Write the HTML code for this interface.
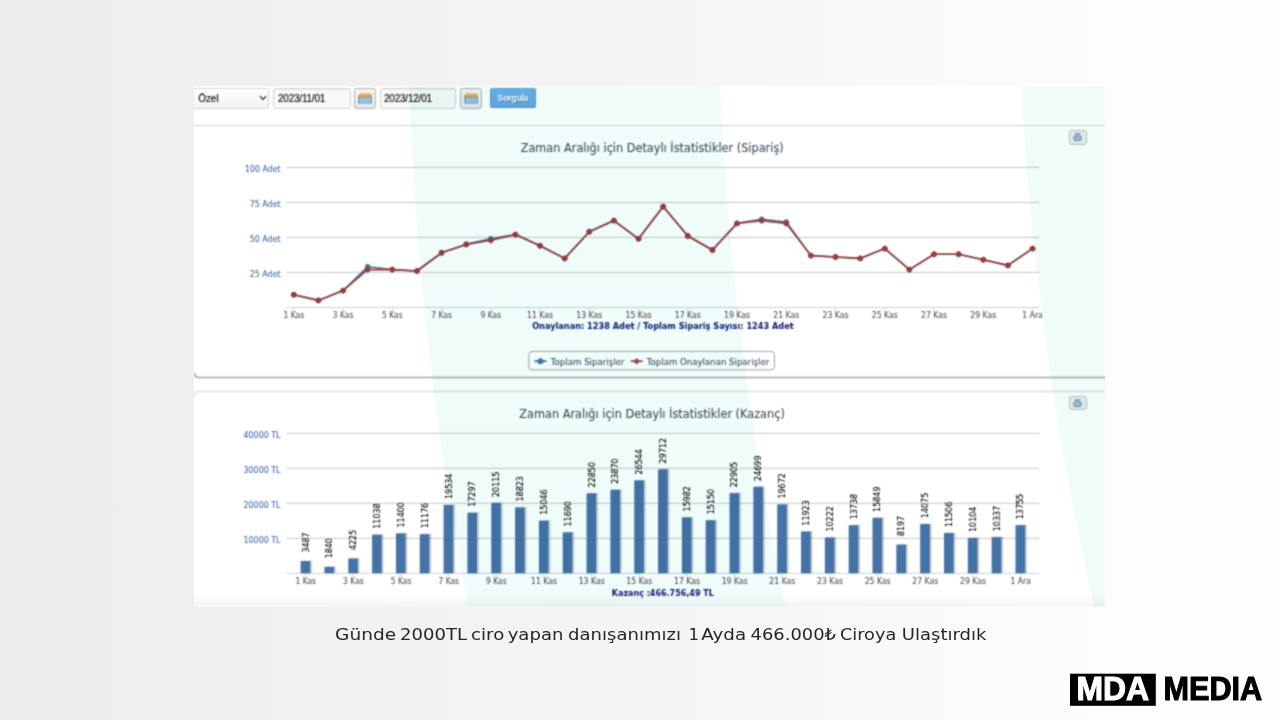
<!DOCTYPE html>
<html lang="tr">
<head>
<meta charset="utf-8">
<title>MDA Media - Detaylı İstatistikler</title>
<style>
html, body { margin: 0; padding: 0; }
body { width: 1280px; height: 720px; overflow: hidden; position: relative;
  background: linear-gradient(90deg, #eeeeee 0%, #f0f0f0 22%, #f5f5f5 52%, #fcfcfc 82%, #fefefe 100%);
  font-family: "Liberation Sans", "DejaVu Sans", sans-serif; }
.shot { position: absolute; left: 194.3px; top: 86px; width: 910.5px; height: 520.7px; overflow: hidden; background: #ffffff; }
.inner { position: absolute; left: -194.3px; top: -86px; width: 1280px; height: 720px; background: #ffffff; filter: url(#soft); }
.charts { position: absolute; left: 0; top: 0; }
.fade { position: absolute; left: 0; top: 594px; width: 1280px; height: 13px; background: linear-gradient(180deg, rgba(0,0,0,0) 0%, rgba(0,0,0,0.045) 100%); }
.teal { position: absolute; left: 0; top: 0; mix-blend-mode: multiply; }
.ctl { position: absolute; box-sizing: border-box; top: 88.4px; height: 20.2px; border-radius: 3px; }
.sel { left: 185px; width: 84px; border: 1px solid #d4d4d4; background: linear-gradient(180deg, #ffffff, #f2f2f2); }
.inp { border: 1px solid #d2d2d2; background: #f8f8f8; box-shadow: inset 0 1px 1px rgba(0,0,0,0.05); }
.txt { position: absolute; top: 3.7px; font-size: 10px; line-height: 11px; letter-spacing: -0.22px; color: #000000; -webkit-text-stroke: 0.1px #000000; white-space: nowrap; }
.cal { border: 1px solid #b3b3b3; background: linear-gradient(180deg, #f2f2f2, #e6e6e6); height: 20.6px; border-radius: 2.5px; }
.cal svg { position: absolute; left: 3px; top: 3px; }
.btn { left: 489.8px; top: 88.3px; width: 46.2px; height: 20.2px; border-radius: 2.5px; border: 1px solid #5a93c8; border-top-color: #6a9fce; background: linear-gradient(180deg, #6db0e8, #62a7e2); color: #ffffff; font-weight: bold; font-size: 8.7px; letter-spacing: -0.25px; line-height: 18.6px; text-align: center; text-shadow: 0.6px 0.9px 0 rgba(50,85,130,0.65); }
.prn { position: absolute; box-sizing: border-box; left: 1069.1px; width: 17.8px; height: 14.6px; border: 1px solid #c2c2c2; border-radius: 3px; background: #eeeeee; }
.prn svg { position: absolute; left: 2.4px; top: 1.3px; }
.caption { position: absolute; left: 0; top: 0; }
.logo { position: absolute; left: 0; top: 0; }
</style>
</head>
<body>
<svg width="0" height="0" style="position:absolute"><filter id="soft" x="0" y="0" width="100%" height="100%" color-interpolation-filters="sRGB"><feConvolveMatrix order="3" kernelMatrix="1 2 1 2 6 2 1 2 1" divisor="18" edgeMode="duplicate" preserveAlpha="true"/></filter></svg>
<div class="shot">
<div class="inner">
<div class="ctl sel"><span class="txt" style="left:12.2px;top:3.8px;letter-spacing:-0.05px">Özel</span>
<svg style="position:absolute;left:73.3px;top:5.6px" width="8" height="6" viewBox="0 0 8 6"><path d="M1 1.2L4 4.4L7 1.2" fill="none" stroke="#1a1a1a" stroke-width="1.05"/></svg></div>
<div class="ctl inp" style="left:273.2px;width:77.4px"><span class="txt" style="left:3.8px">2023/11/01</span></div>
<div class="ctl cal" style="left:353.6px;width:22.6px"><svg width="15" height="13" viewBox="0 0 15 13"><rect x="0.4" y="3.2" width="13.6" height="8.4" rx="0.9" fill="#5590c8"/><path d="M0.4 5V3L2.2 1.6L3.4 2.8L4.4 0.6L5.8 2.6L7.2 1.2L8.4 2.8L9.8 0.6L11 2.6L12.4 1.6L14 3V5Z" fill="#eba23e"/><path d="M0.9 7.2h12.6M0.9 9.4h12.6M3.6 5v6.4M6.2 5v6.4M8.8 5v6.4M11.4 5v6.4" stroke="#cfe3f6" stroke-width="0.8" fill="none"/></svg></div>
<div class="ctl inp" style="left:379.9px;width:76.4px"><span class="txt" style="left:3.1px">2023/12/01</span></div>
<div class="ctl cal" style="left:460px;width:22.4px"><svg width="15" height="13" viewBox="0 0 15 13"><rect x="0.4" y="3.2" width="13.6" height="8.4" rx="0.9" fill="#5590c8"/><path d="M0.4 5V3L2.2 1.6L3.4 2.8L4.4 0.6L5.8 2.6L7.2 1.2L8.4 2.8L9.8 0.6L11 2.6L12.4 1.6L14 3V5Z" fill="#eba23e"/><path d="M0.9 7.2h12.6M0.9 9.4h12.6M3.6 5v6.4M6.2 5v6.4M8.8 5v6.4M11.4 5v6.4" stroke="#cfe3f6" stroke-width="0.8" fill="none"/></svg></div>
<div class="ctl btn">Sorgula</div>
<svg class="charts" width="1280" height="720" viewBox="0 0 1280 720">
<g fill="none">
<path d="M190 125.7H1110" stroke="#d9d9d9" stroke-width="1.2"/>
<path d="M194.3 372.5q0 5 5 5H1110" stroke="#a6a6a6" stroke-width="1.6"/>
<path d="M194.3 396.5q0 -5 5 -5H1110" stroke="#dedede" stroke-width="1.3"/>
</g>
<g stroke="#c9c9c9" stroke-width="1">
<path d="M286.4 272.4H1039.4"/>
<path d="M286.4 237.4H1039.4"/>
<path d="M286.4 202.4H1039.4"/>
<path d="M286.4 167.4H1039.4"/>
</g>
<path d="M286.4 307.4H1039.4" stroke="#c6d2de" stroke-width="1"/>
<g stroke="#d0dae4" stroke-width="1">
<path d="M293.8 307.4v3.5"/>
<path d="M343.05 307.4v3.5"/>
<path d="M392.3 307.4v3.5"/>
<path d="M441.55 307.4v3.5"/>
<path d="M490.8 307.4v3.5"/>
<path d="M540.05 307.4v3.5"/>
<path d="M589.3 307.4v3.5"/>
<path d="M638.55 307.4v3.5"/>
<path d="M687.8 307.4v3.5"/>
<path d="M737.05 307.4v3.5"/>
<path d="M786.3 307.4v3.5"/>
<path d="M835.55 307.4v3.5"/>
<path d="M884.8 307.4v3.5"/>
<path d="M934.05 307.4v3.5"/>
<path d="M983.3 307.4v3.5"/>
<path d="M1032.55 307.4v3.5"/>
</g>
<g font-family='"DejaVu Sans", "Liberation Sans", sans-serif' font-size="8.2" fill="#3f6ea3" stroke="#3f6ea3" stroke-width="0.1" text-anchor="end">
<text x="280.6" y="276.5" textLength="30.8" lengthAdjust="spacingAndGlyphs">25 Adet</text>
<text x="280.6" y="241.5" textLength="30.8" lengthAdjust="spacingAndGlyphs">50 Adet</text>
<text x="280.6" y="206.5" textLength="30.8" lengthAdjust="spacingAndGlyphs">75 Adet</text>
<text x="280.6" y="171.5" textLength="35.6" lengthAdjust="spacingAndGlyphs">100 Adet</text>
</g>
<g font-family='"DejaVu Sans", "Liberation Sans", sans-serif' font-size="8" fill="#555555" stroke="#555555" stroke-width="0.1" text-anchor="middle">
<text x="293.8" y="318.1" textLength="20.6" lengthAdjust="spacingAndGlyphs">1 Kas</text>
<text x="343.05" y="318.1" textLength="20.6" lengthAdjust="spacingAndGlyphs">3 Kas</text>
<text x="392.3" y="318.1" textLength="20.6" lengthAdjust="spacingAndGlyphs">5 Kas</text>
<text x="441.55" y="318.1" textLength="20.6" lengthAdjust="spacingAndGlyphs">7 Kas</text>
<text x="490.8" y="318.1" textLength="20.6" lengthAdjust="spacingAndGlyphs">9 Kas</text>
<text x="540.05" y="318.1" textLength="26" lengthAdjust="spacingAndGlyphs">11 Kas</text>
<text x="589.3" y="318.1" textLength="26" lengthAdjust="spacingAndGlyphs">13 Kas</text>
<text x="638.55" y="318.1" textLength="26" lengthAdjust="spacingAndGlyphs">15 Kas</text>
<text x="687.8" y="318.1" textLength="26" lengthAdjust="spacingAndGlyphs">17 Kas</text>
<text x="737.05" y="318.1" textLength="26" lengthAdjust="spacingAndGlyphs">19 Kas</text>
<text x="786.3" y="318.1" textLength="26" lengthAdjust="spacingAndGlyphs">21 Kas</text>
<text x="835.55" y="318.1" textLength="26" lengthAdjust="spacingAndGlyphs">23 Kas</text>
<text x="884.8" y="318.1" textLength="26" lengthAdjust="spacingAndGlyphs">25 Kas</text>
<text x="934.05" y="318.1" textLength="26" lengthAdjust="spacingAndGlyphs">27 Kas</text>
<text x="983.3" y="318.1" textLength="26" lengthAdjust="spacingAndGlyphs">29 Kas</text>
<text x="1032.55" y="318.1" textLength="20.4" lengthAdjust="spacingAndGlyphs">1 Ara</text>
</g>
<text x="652.2" y="152.1" font-family='"DejaVu Sans", "Liberation Sans", sans-serif' font-size="12" fill="#404e5e" stroke="#404e5e" stroke-width="0.1" text-anchor="middle" textLength="263" lengthAdjust="spacingAndGlyphs">Zaman Aralığı için Detaylı İstatistikler (Sipariş)</text>
<text x="662.9" y="329.3" font-family='"DejaVu Sans", "Liberation Sans", sans-serif' font-size="8.3" font-weight="bold" fill="#131f78" stroke="#131f78" stroke-width="0.05" text-anchor="middle" textLength="261.5" lengthAdjust="spacingAndGlyphs">Onaylanan: 1238 Adet / Toplam Sipariş Sayısı: 1243 Adet</text>
<path d="M293.8 294.8 L318.43 300.4 L343.05 290.6 L367.68 266.8 L392.3 269.6 L416.93 271 L441.55 252.8 L466.18 244.4 L490.8 238.8 L515.42 234.6 L540.05 245.8 L564.67 258.4 L589.3 231.8 L613.92 220.6 L638.55 238.8 L663.17 206.6 L687.8 236 L712.42 250 L737.05 223.4 L761.67 219.2 L786.3 222 L810.92 255.6 L835.55 257 L860.17 258.4 L884.8 248.6 L909.42 269.6 L934.05 254.2 L958.67 254.2 L983.3 259.8 L1007.92 265.4 L1032.55 248.6" fill="none" stroke="#3f6ca3" stroke-width="1.6" stroke-linejoin="round" stroke-linecap="round"/>
<g fill="#4572a7">
<circle cx="293.8" cy="294.8" r="2.7"/>
<circle cx="318.43" cy="300.4" r="2.7"/>
<circle cx="343.05" cy="290.6" r="2.7"/>
<circle cx="367.68" cy="266.8" r="2.7"/>
<circle cx="392.3" cy="269.6" r="2.7"/>
<circle cx="416.93" cy="271" r="2.7"/>
<circle cx="441.55" cy="252.8" r="2.7"/>
<circle cx="466.18" cy="244.4" r="2.7"/>
<circle cx="490.8" cy="238.8" r="2.7"/>
<circle cx="515.42" cy="234.6" r="2.7"/>
<circle cx="540.05" cy="245.8" r="2.7"/>
<circle cx="564.67" cy="258.4" r="2.7"/>
<circle cx="589.3" cy="231.8" r="2.7"/>
<circle cx="613.92" cy="220.6" r="2.7"/>
<circle cx="638.55" cy="238.8" r="2.7"/>
<circle cx="663.17" cy="206.6" r="2.7"/>
<circle cx="687.8" cy="236" r="2.7"/>
<circle cx="712.42" cy="250" r="2.7"/>
<circle cx="737.05" cy="223.4" r="2.7"/>
<circle cx="761.67" cy="219.2" r="2.7"/>
<circle cx="786.3" cy="222" r="2.7"/>
<circle cx="810.92" cy="255.6" r="2.7"/>
<circle cx="835.55" cy="257" r="2.7"/>
<circle cx="860.17" cy="258.4" r="2.7"/>
<circle cx="884.8" cy="248.6" r="2.7"/>
<circle cx="909.42" cy="269.6" r="2.7"/>
<circle cx="934.05" cy="254.2" r="2.7"/>
<circle cx="958.67" cy="254.2" r="2.7"/>
<circle cx="983.3" cy="259.8" r="2.7"/>
<circle cx="1007.92" cy="265.4" r="2.7"/>
<circle cx="1032.55" cy="248.6" r="2.7"/>
</g>
<path d="M293.8 294.8 L318.43 300.4 L343.05 290.6 L367.68 269.6 L392.3 269.6 L416.93 271 L441.55 252.8 L466.18 244.4 L490.8 240.2 L515.42 234.6 L540.05 245.8 L564.67 258.4 L589.3 231.8 L613.92 220.6 L638.55 238.8 L663.17 206.6 L687.8 236 L712.42 250 L737.05 223.4 L761.67 220.6 L786.3 223.4 L810.92 255.6 L835.55 257 L860.17 258.4 L884.8 248.6 L909.42 269.6 L934.05 254.2 L958.67 254.2 L983.3 259.8 L1007.92 265.4 L1032.55 248.6" fill="none" stroke="#9b3c3a" stroke-width="1.6" stroke-linejoin="round" stroke-linecap="round"/>
<g fill="#9b3c3a">
<circle cx="293.8" cy="294.8" r="2.7"/><path d="M293.8 291.5l3.3 3.3l-3.3 3.3l-3.3 -3.3z"/>
<circle cx="318.43" cy="300.4" r="2.7"/><path d="M318.43 297.1l3.3 3.3l-3.3 3.3l-3.3 -3.3z"/>
<circle cx="343.05" cy="290.6" r="2.7"/><path d="M343.05 287.3l3.3 3.3l-3.3 3.3l-3.3 -3.3z"/>
<circle cx="367.68" cy="269.6" r="2.7"/><path d="M367.68 266.3l3.3 3.3l-3.3 3.3l-3.3 -3.3z"/>
<circle cx="392.3" cy="269.6" r="2.7"/><path d="M392.3 266.3l3.3 3.3l-3.3 3.3l-3.3 -3.3z"/>
<circle cx="416.93" cy="271" r="2.7"/><path d="M416.93 267.7l3.3 3.3l-3.3 3.3l-3.3 -3.3z"/>
<circle cx="441.55" cy="252.8" r="2.7"/><path d="M441.55 249.5l3.3 3.3l-3.3 3.3l-3.3 -3.3z"/>
<circle cx="466.18" cy="244.4" r="2.7"/><path d="M466.18 241.1l3.3 3.3l-3.3 3.3l-3.3 -3.3z"/>
<circle cx="490.8" cy="240.2" r="2.7"/><path d="M490.8 236.9l3.3 3.3l-3.3 3.3l-3.3 -3.3z"/>
<circle cx="515.42" cy="234.6" r="2.7"/><path d="M515.42 231.3l3.3 3.3l-3.3 3.3l-3.3 -3.3z"/>
<circle cx="540.05" cy="245.8" r="2.7"/><path d="M540.05 242.5l3.3 3.3l-3.3 3.3l-3.3 -3.3z"/>
<circle cx="564.67" cy="258.4" r="2.7"/><path d="M564.67 255.1l3.3 3.3l-3.3 3.3l-3.3 -3.3z"/>
<circle cx="589.3" cy="231.8" r="2.7"/><path d="M589.3 228.5l3.3 3.3l-3.3 3.3l-3.3 -3.3z"/>
<circle cx="613.92" cy="220.6" r="2.7"/><path d="M613.92 217.3l3.3 3.3l-3.3 3.3l-3.3 -3.3z"/>
<circle cx="638.55" cy="238.8" r="2.7"/><path d="M638.55 235.5l3.3 3.3l-3.3 3.3l-3.3 -3.3z"/>
<circle cx="663.17" cy="206.6" r="2.7"/><path d="M663.17 203.3l3.3 3.3l-3.3 3.3l-3.3 -3.3z"/>
<circle cx="687.8" cy="236" r="2.7"/><path d="M687.8 232.7l3.3 3.3l-3.3 3.3l-3.3 -3.3z"/>
<circle cx="712.42" cy="250" r="2.7"/><path d="M712.42 246.7l3.3 3.3l-3.3 3.3l-3.3 -3.3z"/>
<circle cx="737.05" cy="223.4" r="2.7"/><path d="M737.05 220.1l3.3 3.3l-3.3 3.3l-3.3 -3.3z"/>
<circle cx="761.67" cy="220.6" r="2.7"/><path d="M761.67 217.3l3.3 3.3l-3.3 3.3l-3.3 -3.3z"/>
<circle cx="786.3" cy="223.4" r="2.7"/><path d="M786.3 220.1l3.3 3.3l-3.3 3.3l-3.3 -3.3z"/>
<circle cx="810.92" cy="255.6" r="2.7"/><path d="M810.92 252.3l3.3 3.3l-3.3 3.3l-3.3 -3.3z"/>
<circle cx="835.55" cy="257" r="2.7"/><path d="M835.55 253.7l3.3 3.3l-3.3 3.3l-3.3 -3.3z"/>
<circle cx="860.17" cy="258.4" r="2.7"/><path d="M860.17 255.1l3.3 3.3l-3.3 3.3l-3.3 -3.3z"/>
<circle cx="884.8" cy="248.6" r="2.7"/><path d="M884.8 245.3l3.3 3.3l-3.3 3.3l-3.3 -3.3z"/>
<circle cx="909.42" cy="269.6" r="2.7"/><path d="M909.42 266.3l3.3 3.3l-3.3 3.3l-3.3 -3.3z"/>
<circle cx="934.05" cy="254.2" r="2.7"/><path d="M934.05 250.9l3.3 3.3l-3.3 3.3l-3.3 -3.3z"/>
<circle cx="958.67" cy="254.2" r="2.7"/><path d="M958.67 250.9l3.3 3.3l-3.3 3.3l-3.3 -3.3z"/>
<circle cx="983.3" cy="259.8" r="2.7"/><path d="M983.3 256.5l3.3 3.3l-3.3 3.3l-3.3 -3.3z"/>
<circle cx="1007.92" cy="265.4" r="2.7"/><path d="M1007.92 262.1l3.3 3.3l-3.3 3.3l-3.3 -3.3z"/>
<circle cx="1032.55" cy="248.6" r="2.7"/><path d="M1032.55 245.3l3.3 3.3l-3.3 3.3l-3.3 -3.3z"/>
</g>
<rect x="528.8" y="351.4" width="245.7" height="18.5" rx="3.5" fill="#ffffff" stroke="#8c8c8c" stroke-width="0.8"/>
<path d="M534.5 361.2h12" stroke="#4572a7" stroke-width="1.8"/><circle cx="540.5" cy="361.2" r="2.9" fill="#4572a7"/>
<path d="M630.7 361.2h12" stroke="#aa4643" stroke-width="1.8"/><path d="M636.7 357.9l3.3 3.3l-3.3 3.3l-3.3 -3.3z" fill="#aa4643"/>
<g font-family='"DejaVu Sans", "Liberation Sans", sans-serif' font-size="8.9" fill="#3f4f60" stroke="#3f4f60" stroke-width="0.1">
<text x="550.8" y="364.6" textLength="73.6" lengthAdjust="spacingAndGlyphs">Toplam Siparişler</text>
<text x="646.8" y="364.6" textLength="122.4" lengthAdjust="spacingAndGlyphs">Toplam Onaylanan Siparişler</text>
</g>
<g stroke="#c9c9c9" stroke-width="1">
<path d="M286.4 538.3H1039.4"/>
<path d="M286.4 503.3H1039.4"/>
<path d="M286.4 468.3H1039.4"/>
<path d="M286.4 433.3H1039.4"/>
</g>
<path d="M286.4 573.3H1039.4" stroke="#c6d2de" stroke-width="1"/>
<g stroke="#d0dae4" stroke-width="1">
<path d="M305.45 573.3v3.5"/>
<path d="M353.11 573.3v3.5"/>
<path d="M400.77 573.3v3.5"/>
<path d="M448.43 573.3v3.5"/>
<path d="M496.09 573.3v3.5"/>
<path d="M543.75 573.3v3.5"/>
<path d="M591.41 573.3v3.5"/>
<path d="M639.07 573.3v3.5"/>
<path d="M686.73 573.3v3.5"/>
<path d="M734.39 573.3v3.5"/>
<path d="M782.05 573.3v3.5"/>
<path d="M829.71 573.3v3.5"/>
<path d="M877.37 573.3v3.5"/>
<path d="M925.03 573.3v3.5"/>
<path d="M972.69 573.3v3.5"/>
<path d="M1020.35 573.3v3.5"/>
</g>
<g font-family='"DejaVu Sans", "Liberation Sans", sans-serif' font-size="8.2" fill="#3f6ea3" stroke="#3f6ea3" stroke-width="0.1" text-anchor="end">
<text x="280.5" y="542.5" textLength="37" lengthAdjust="spacingAndGlyphs">10000 TL</text>
<text x="280.5" y="507.5" textLength="37" lengthAdjust="spacingAndGlyphs">20000 TL</text>
<text x="280.5" y="472.5" textLength="37" lengthAdjust="spacingAndGlyphs">30000 TL</text>
<text x="280.5" y="437.5" textLength="37" lengthAdjust="spacingAndGlyphs">40000 TL</text>
</g>
<g font-family='"DejaVu Sans", "Liberation Sans", sans-serif' font-size="8" fill="#555555" stroke="#555555" stroke-width="0.1" text-anchor="middle">
<text x="305.75" y="584.1" textLength="20.6" lengthAdjust="spacingAndGlyphs">1 Kas</text>
<text x="353.41" y="584.1" textLength="20.6" lengthAdjust="spacingAndGlyphs">3 Kas</text>
<text x="401.07" y="584.1" textLength="20.6" lengthAdjust="spacingAndGlyphs">5 Kas</text>
<text x="448.73" y="584.1" textLength="20.6" lengthAdjust="spacingAndGlyphs">7 Kas</text>
<text x="496.39" y="584.1" textLength="20.6" lengthAdjust="spacingAndGlyphs">9 Kas</text>
<text x="544.05" y="584.1" textLength="26" lengthAdjust="spacingAndGlyphs">11 Kas</text>
<text x="591.71" y="584.1" textLength="26" lengthAdjust="spacingAndGlyphs">13 Kas</text>
<text x="639.37" y="584.1" textLength="26" lengthAdjust="spacingAndGlyphs">15 Kas</text>
<text x="687.03" y="584.1" textLength="26" lengthAdjust="spacingAndGlyphs">17 Kas</text>
<text x="734.69" y="584.1" textLength="26" lengthAdjust="spacingAndGlyphs">19 Kas</text>
<text x="782.35" y="584.1" textLength="26" lengthAdjust="spacingAndGlyphs">21 Kas</text>
<text x="830.01" y="584.1" textLength="26" lengthAdjust="spacingAndGlyphs">23 Kas</text>
<text x="877.67" y="584.1" textLength="26" lengthAdjust="spacingAndGlyphs">25 Kas</text>
<text x="925.33" y="584.1" textLength="26" lengthAdjust="spacingAndGlyphs">27 Kas</text>
<text x="972.99" y="584.1" textLength="26" lengthAdjust="spacingAndGlyphs">29 Kas</text>
<text x="1020.65" y="584.1" textLength="20.4" lengthAdjust="spacingAndGlyphs">1 Ara</text>
</g>
<text x="652.1" y="418" font-family='"DejaVu Sans", "Liberation Sans", sans-serif' font-size="12" fill="#404e5e" stroke="#404e5e" stroke-width="0.1" text-anchor="middle" textLength="265.5" lengthAdjust="spacingAndGlyphs">Zaman Aralığı için Detaylı İstatistikler (Kazanç)</text>
<text x="662.8" y="595.5" font-family='"DejaVu Sans", "Liberation Sans", sans-serif' font-size="8.3" font-weight="bold" fill="#131f78" stroke="#131f78" stroke-width="0.05" text-anchor="middle" textLength="102" lengthAdjust="spacingAndGlyphs">Kazanç :466.756,49 TL</text>
<g fill="#000000" fill-opacity="0.17">
<rect x="302.5" y="560.6" width="9.7" height="12.2"/>
<rect x="326.33" y="566.36" width="9.7" height="6.44"/>
<rect x="350.16" y="558.01" width="9.7" height="14.79"/>
<rect x="373.99" y="534.17" width="9.7" height="38.63"/>
<rect x="397.82" y="532.9" width="9.7" height="39.9"/>
<rect x="421.65" y="533.68" width="9.7" height="39.12"/>
<rect x="445.48" y="504.43" width="9.7" height="68.37"/>
<rect x="469.31" y="512.26" width="9.7" height="60.54"/>
<rect x="493.14" y="502.4" width="9.7" height="70.4"/>
<rect x="516.97" y="506.92" width="9.7" height="65.88"/>
<rect x="540.8" y="520.14" width="9.7" height="52.66"/>
<rect x="564.63" y="531.88" width="9.7" height="40.91"/>
<rect x="588.46" y="492.82" width="9.7" height="79.98"/>
<rect x="612.29" y="489.25" width="9.7" height="83.55"/>
<rect x="636.12" y="479.9" width="9.7" height="92.9"/>
<rect x="659.95" y="468.81" width="9.7" height="103.99"/>
<rect x="683.78" y="516.86" width="9.7" height="55.94"/>
<rect x="707.61" y="519.77" width="9.7" height="53.02"/>
<rect x="731.44" y="492.63" width="9.7" height="80.17"/>
<rect x="755.27" y="486.35" width="9.7" height="86.45"/>
<rect x="779.1" y="503.95" width="9.7" height="68.85"/>
<rect x="802.93" y="531.07" width="9.7" height="41.73"/>
<rect x="826.76" y="537.02" width="9.7" height="35.78"/>
<rect x="850.59" y="524.72" width="9.7" height="48.08"/>
<rect x="874.42" y="517.33" width="9.7" height="55.47"/>
<rect x="898.25" y="544.11" width="9.7" height="28.69"/>
<rect x="922.08" y="523.54" width="9.7" height="49.26"/>
<rect x="945.91" y="532.53" width="9.7" height="40.27"/>
<rect x="969.74" y="537.44" width="9.7" height="35.36"/>
<rect x="993.57" y="536.62" width="9.7" height="36.18"/>
<rect x="1017.4" y="524.66" width="9.7" height="48.14"/>
</g>
<g fill="#4572a7">
<rect x="300.6" y="561.1" width="9.7" height="12.2"/>
<rect x="324.43" y="566.86" width="9.7" height="6.44"/>
<rect x="348.26" y="558.51" width="9.7" height="14.79"/>
<rect x="372.09" y="534.67" width="9.7" height="38.63"/>
<rect x="395.92" y="533.4" width="9.7" height="39.9"/>
<rect x="419.75" y="534.18" width="9.7" height="39.12"/>
<rect x="443.58" y="504.93" width="9.7" height="68.37"/>
<rect x="467.41" y="512.76" width="9.7" height="60.54"/>
<rect x="491.24" y="502.9" width="9.7" height="70.4"/>
<rect x="515.07" y="507.42" width="9.7" height="65.88"/>
<rect x="538.9" y="520.64" width="9.7" height="52.66"/>
<rect x="562.73" y="532.38" width="9.7" height="40.91"/>
<rect x="586.56" y="493.32" width="9.7" height="79.98"/>
<rect x="610.39" y="489.75" width="9.7" height="83.55"/>
<rect x="634.22" y="480.4" width="9.7" height="92.9"/>
<rect x="658.05" y="469.31" width="9.7" height="103.99"/>
<rect x="681.88" y="517.36" width="9.7" height="55.94"/>
<rect x="705.71" y="520.27" width="9.7" height="53.02"/>
<rect x="729.54" y="493.13" width="9.7" height="80.17"/>
<rect x="753.37" y="486.85" width="9.7" height="86.45"/>
<rect x="777.2" y="504.45" width="9.7" height="68.85"/>
<rect x="801.03" y="531.57" width="9.7" height="41.73"/>
<rect x="824.86" y="537.52" width="9.7" height="35.78"/>
<rect x="848.69" y="525.22" width="9.7" height="48.08"/>
<rect x="872.52" y="517.83" width="9.7" height="55.47"/>
<rect x="896.35" y="544.61" width="9.7" height="28.69"/>
<rect x="920.18" y="524.04" width="9.7" height="49.26"/>
<rect x="944.01" y="533.03" width="9.7" height="40.27"/>
<rect x="967.84" y="537.94" width="9.7" height="35.36"/>
<rect x="991.67" y="537.12" width="9.7" height="36.18"/>
<rect x="1015.5" y="525.16" width="9.7" height="48.14"/>
</g>
<g font-family='"DejaVu Sans", "Liberation Sans", sans-serif' font-size="8.2" fill="#000000" stroke="#000000" stroke-width="0.12" text-anchor="middle">
<text transform="translate(308.55 542.5) rotate(-90)" textLength="20.2" lengthAdjust="spacingAndGlyphs">3487</text>
<text transform="translate(332.38 548.26) rotate(-90)" textLength="20.2" lengthAdjust="spacingAndGlyphs">1840</text>
<text transform="translate(356.21 539.91) rotate(-90)" textLength="20.2" lengthAdjust="spacingAndGlyphs">4225</text>
<text transform="translate(380.04 516.07) rotate(-90)" textLength="25.4" lengthAdjust="spacingAndGlyphs">11038</text>
<text transform="translate(403.87 514.8) rotate(-90)" textLength="25.4" lengthAdjust="spacingAndGlyphs">11400</text>
<text transform="translate(427.7 515.58) rotate(-90)" textLength="25.4" lengthAdjust="spacingAndGlyphs">11176</text>
<text transform="translate(451.53 486.33) rotate(-90)" textLength="25.4" lengthAdjust="spacingAndGlyphs">19534</text>
<text transform="translate(475.36 494.16) rotate(-90)" textLength="25.4" lengthAdjust="spacingAndGlyphs">17297</text>
<text transform="translate(499.19 484.3) rotate(-90)" textLength="25.4" lengthAdjust="spacingAndGlyphs">20115</text>
<text transform="translate(523.02 488.82) rotate(-90)" textLength="25.4" lengthAdjust="spacingAndGlyphs">18823</text>
<text transform="translate(546.85 502.04) rotate(-90)" textLength="25.4" lengthAdjust="spacingAndGlyphs">15046</text>
<text transform="translate(570.68 513.78) rotate(-90)" textLength="25.4" lengthAdjust="spacingAndGlyphs">11690</text>
<text transform="translate(594.51 474.72) rotate(-90)" textLength="25.4" lengthAdjust="spacingAndGlyphs">22850</text>
<text transform="translate(618.34 471.15) rotate(-90)" textLength="25.4" lengthAdjust="spacingAndGlyphs">23870</text>
<text transform="translate(642.17 461.8) rotate(-90)" textLength="25.4" lengthAdjust="spacingAndGlyphs">26544</text>
<text transform="translate(666 450.71) rotate(-90)" textLength="25.4" lengthAdjust="spacingAndGlyphs">29712</text>
<text transform="translate(689.83 498.76) rotate(-90)" textLength="25.4" lengthAdjust="spacingAndGlyphs">15982</text>
<text transform="translate(713.66 501.67) rotate(-90)" textLength="25.4" lengthAdjust="spacingAndGlyphs">15150</text>
<text transform="translate(737.49 474.53) rotate(-90)" textLength="25.4" lengthAdjust="spacingAndGlyphs">22905</text>
<text transform="translate(761.32 468.25) rotate(-90)" textLength="25.4" lengthAdjust="spacingAndGlyphs">24699</text>
<text transform="translate(785.15 485.85) rotate(-90)" textLength="25.4" lengthAdjust="spacingAndGlyphs">19672</text>
<text transform="translate(808.98 512.97) rotate(-90)" textLength="25.4" lengthAdjust="spacingAndGlyphs">11923</text>
<text transform="translate(832.81 518.92) rotate(-90)" textLength="25.4" lengthAdjust="spacingAndGlyphs">10222</text>
<text transform="translate(856.64 506.62) rotate(-90)" textLength="25.4" lengthAdjust="spacingAndGlyphs">13738</text>
<text transform="translate(880.47 499.23) rotate(-90)" textLength="25.4" lengthAdjust="spacingAndGlyphs">15849</text>
<text transform="translate(904.3 526.01) rotate(-90)" textLength="20.2" lengthAdjust="spacingAndGlyphs">8197</text>
<text transform="translate(928.13 505.44) rotate(-90)" textLength="25.4" lengthAdjust="spacingAndGlyphs">14075</text>
<text transform="translate(951.96 514.43) rotate(-90)" textLength="25.4" lengthAdjust="spacingAndGlyphs">11506</text>
<text transform="translate(975.79 519.34) rotate(-90)" textLength="25.4" lengthAdjust="spacingAndGlyphs">10104</text>
<text transform="translate(999.62 518.52) rotate(-90)" textLength="25.4" lengthAdjust="spacingAndGlyphs">10337</text>
<text transform="translate(1023.45 506.56) rotate(-90)" textLength="25.4" lengthAdjust="spacingAndGlyphs">13755</text>
</g>
</svg>
<div class="prn" style="top:130px"><svg width="11" height="11" viewBox="0 0 11 11"><rect x="2.7" y="0.9" width="5.6" height="3.6" fill="#93acd2"/><rect x="1.2" y="4" width="8.6" height="3.6" rx="0.5" fill="#8d9db3"/><rect x="2.8" y="4.8" width="5.4" height="2" fill="#a6c5ea"/><rect x="1.9" y="7.6" width="7.2" height="1.5" fill="#8796ab"/></svg></div>
<div class="prn" style="top:395.9px"><svg width="11" height="11" viewBox="0 0 11 11"><rect x="2.7" y="0.9" width="5.6" height="3.6" fill="#93acd2"/><rect x="1.2" y="4" width="8.6" height="3.6" rx="0.5" fill="#8d9db3"/><rect x="2.8" y="4.8" width="5.4" height="2" fill="#a6c5ea"/><rect x="1.9" y="7.6" width="7.2" height="1.5" fill="#8796ab"/></svg></div>
<div class="fade"></div>
<svg class="teal" width="1280" height="720" viewBox="0 0 1280 720">
<path d="M409.4 86Q418.1 346.5 468 607H785Q732.1 346.5 719.7 86Z" fill="#effcfa"/>
<path d="M1021.4 86Q1034.5 346.5 1094.4 607H1110V86Z" fill="#effcfa"/>
</svg>
</div>
</div>
<svg class="caption" width="1280" height="720" viewBox="0 0 1280 720"><text y="639.7" xml:space="preserve" font-family='"DejaVu Sans", "Liberation Sans", sans-serif' font-size="16.5" fill="#262626"><tspan x="335.1" textLength="61.0" lengthAdjust="spacingAndGlyphs">Günde</tspan> <tspan x="400.1" textLength="66.9" lengthAdjust="spacingAndGlyphs">2000TL</tspan> <tspan x="471.1" textLength="33.2" lengthAdjust="spacingAndGlyphs">ciro</tspan> <tspan x="507.7" textLength="55.7" lengthAdjust="spacingAndGlyphs">yapan</tspan> <tspan x="568.1" textLength="112.9" lengthAdjust="spacingAndGlyphs">danışanımızı</tspan>  <tspan x="688.6">1</tspan> <tspan x="701.3" textLength="44.8" lengthAdjust="spacingAndGlyphs">Ayda</tspan> <tspan x="750.6" textLength="85.3" lengthAdjust="spacingAndGlyphs">466.000₺</tspan> <tspan x="839.9" textLength="56.4" lengthAdjust="spacingAndGlyphs">Ciroya</tspan> <tspan x="901.8" textLength="84.7" lengthAdjust="spacingAndGlyphs">Ulaştırdık</tspan></text></svg>
<svg class="logo" width="1280" height="720" viewBox="0 0 1280 720">
<rect x="1070" y="673.7" width="85.8" height="32.1" fill="#000000"/>
<g font-family='"Liberation Sans", "DejaVu Sans", sans-serif' font-weight="bold" font-size="32.6" stroke-width="1" stroke-linejoin="miter">
<text x="1076.4" y="699.9" fill="#ffffff" stroke="#ffffff" textLength="72.8" lengthAdjust="spacingAndGlyphs">MDA</text>
<text x="1163.4" y="699.9" fill="#000000" stroke="#000000" textLength="98.8" lengthAdjust="spacingAndGlyphs">MEDIA</text>
</g>
</svg>
</body>
</html>
